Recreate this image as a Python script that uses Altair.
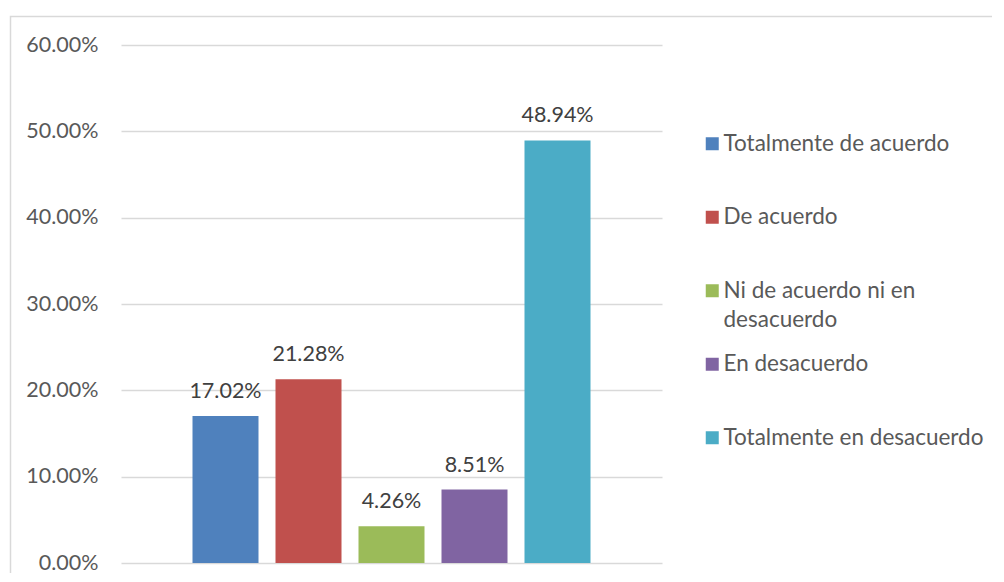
import altair as alt
import pandas as pd

categories = [
    "Totalmente de acuerdo",
    "De acuerdo",
    "Ni de acuerdo ni en desacuerdo",
    "En desacuerdo",
    "Totalmente en desacuerdo",
]
values = [0.1702, 0.2128, 0.0426, 0.0851, 0.4894]
colors = ["#4f81bd", "#c0504d", "#9bbb59", "#8064a2", "#4bacc6"]
y_ticks = [0, 0.1, 0.2, 0.3, 0.4, 0.5, 0.6]

df = pd.DataFrame({"categoria": categories, "valor": values})

FONT = "Lato"
FS = 21.5
LFS = 22.5

x = alt.X(
    "categoria:N",
    sort=categories,
    axis=None,
    scale=alt.Scale(paddingInner=0.2048, paddingOuter=0.8614),
)
y = alt.Y(
    "valor:Q",
    scale=alt.Scale(domain=[0, 0.6], nice=False, zero=True),
    axis=alt.Axis(
        values=y_ticks,
        format=".2%",
        title=None,
        domain=False,
        ticks=False,
        labelPadding=23,
        labelFontSize=FS,
        labelFont=FONT,
        labelColor="#595959",
        grid=True,
        gridColor="#d9d9d9",
        gridWidth=1.3,
    ),
)

legend = alt.Legend(
    title=None,
    orient="none",
    legendX=580,
    legendY=87.5,
    symbolType="square",
    symbolSize=169,
    symbolStrokeWidth=0,
    labelFont=FONT,
    labelFontSize=LFS,
    labelColor="#595959",
    labelLimit=320,
    labelOffset=0,
    rowPadding=21.5,
    gridAlign="all",
    padding=0,
    labelExpr="datum.label == 'Ni de acuerdo ni en desacuerdo' ? ['Ni de acuerdo ni en', 'desacuerdo'] : datum.label",
)

bars = alt.Chart(df).mark_bar().encode(
    x=x,
    y=y,
    color=alt.Color(
        "categoria:N",
        sort=categories,
        scale=alt.Scale(domain=categories, range=colors),
        legend=legend,
    ),
)

labels = alt.Chart(df).mark_text(
    dy=-18, baseline="alphabetic", font=FONT, fontSize=FS, color="#404040"
).encode(x=x, y=y, text=alt.Text("valor:Q", format=".2%"))

frame = alt.Chart(alt.Data(values=[{}])).mark_rect(
    fill="transparent", stroke="#d9d9d9", strokeWidth=1.5
).encode(
    x=alt.value(-110.5), y=alt.value(-28.5), x2=alt.value(1200), y2=alt.value(1200)
)

chart = (
    alt.layer(frame, bars, labels)
    .properties(
        width=541,
        height=518,
        padding={"left": 113, "top": 37, "right": 330, "bottom": 10},
        autosize="none",
    )
    .configure(style={"guide-label": {"lineHeight": 29}})
    .configure_view(stroke="transparent")
)

chart.save("out.html", embed_options={"renderer": "svg", "actions": False})
